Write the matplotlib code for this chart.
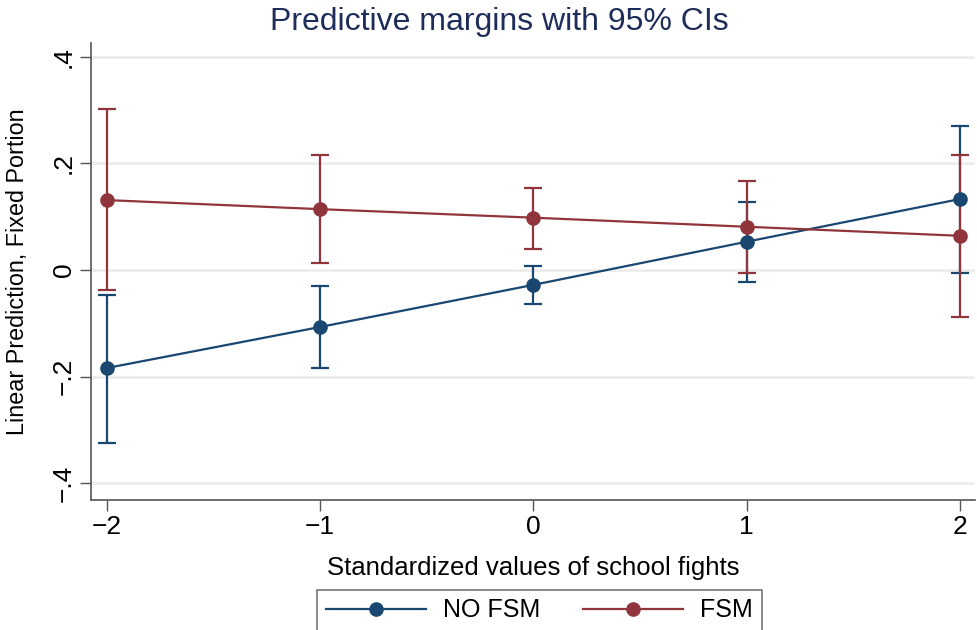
"""Predictive margins with 95% CIs, Stata-style margins plot."""

import matplotlib

matplotlib.use("Agg")
import matplotlib.pyplot as plt

plt.rcParams["font.family"] = ["Liberation Sans", "DejaVu Sans"]

# ---------------------------------------------------------------------------
# Data
# ---------------------------------------------------------------------------
fights = [-2, -1, 0, 1, 2]

no_fsm = [-0.184, -0.107, -0.028, 0.053, 0.133]
no_fsm_lo = [-0.325, -0.184, -0.064, -0.023, -0.005]
no_fsm_hi = [-0.047, -0.030, 0.008, 0.128, 0.270]

fsm = [0.131, 0.114, 0.098, 0.081, 0.064]
fsm_lo = [-0.038, 0.013, 0.040, -0.006, -0.089]
fsm_hi = [0.301, 0.216, 0.154, 0.167, 0.216]

y_ticks = [-0.4, -0.2, 0, 0.2, 0.4]
y_tick_labels = ["\u2212.4", "\u2212.2", "0", ".2", ".4"]
x_tick_labels = ["\u22122", "\u22121", "0", "1", "2"]

BLUE = "#1a476f"
RED = "#90353b"


def _plot_series(ax, y, lo, hi, color, label):
    err = [[v - l for v, l in zip(y, lo)], [h - v for v, h in zip(y, hi)]]
    ax.errorbar(
        fights,
        y,
        yerr=err,
        fmt="none",
        ecolor=color,
        elinewidth=1.6,
        capsize=6.5,
        capthick=1.6,
        zorder=3,
    )
    (line,) = ax.plot(
        fights, y, "-o", color=color, lw=1.6, markersize=9.5, label=label, zorder=4
    )
    return line


fig = plt.figure(figsize=(9.77, 6.3), dpi=100)
ax = fig.add_axes([0.093, 0.206, 0.905, 0.726])

h1 = _plot_series(ax, no_fsm, no_fsm_lo, no_fsm_hi, BLUE, "NO FSM")
h2 = _plot_series(ax, fsm, fsm_lo, fsm_hi, RED, "FSM")

ax.set_xlim(-2.075, 2.07)
ax.set_ylim(-0.432, 0.426)
ax.set_xticks(fights)
ax.set_xticklabels(x_tick_labels)
ax.set_yticks(y_ticks)
ax.set_yticklabels(y_tick_labels, rotation=90, va="center")

ax.grid(axis="y", color="#ebebeb", lw=1.8, zorder=0)
ax.set_axisbelow(True)
for side in ("top", "right"):
    ax.spines[side].set_visible(False)
for side in ("left", "bottom"):
    ax.spines[side].set_color("#555555")
    ax.spines[side].set_linewidth(1.2)
ax.tick_params(axis="both", length=8, width=1.0, color="#555555", labelsize=19, pad=3)

ax.set_xlabel("Standardized values of school fights", fontsize=18.5, labelpad=12)
ax.set_ylabel("Linear Prediction, Fixed Portion", fontsize=16.8, labelpad=16)
fig.text(
    0.511,
    1 - 22 / 630,
    "Predictive margins with 95% CIs",
    fontsize=23,
    color="#1e2d5a",
    ha="center",
    va="center",
)

leg = fig.legend(
    handles=[h1, h2],
    loc="upper center",
    bbox_to_anchor=(0.552, 0.064),
    borderaxespad=0,
    ncol=2,
    fontsize=18,
    frameon=True,
    fancybox=False,
    edgecolor="#555555",
    handlelength=4.0,
    handletextpad=0.7,
    columnspacing=1.7,
    borderpad=0.35,
)
leg.get_frame().set_linewidth(1.2)

fig.savefig("out.png", dpi=100)
